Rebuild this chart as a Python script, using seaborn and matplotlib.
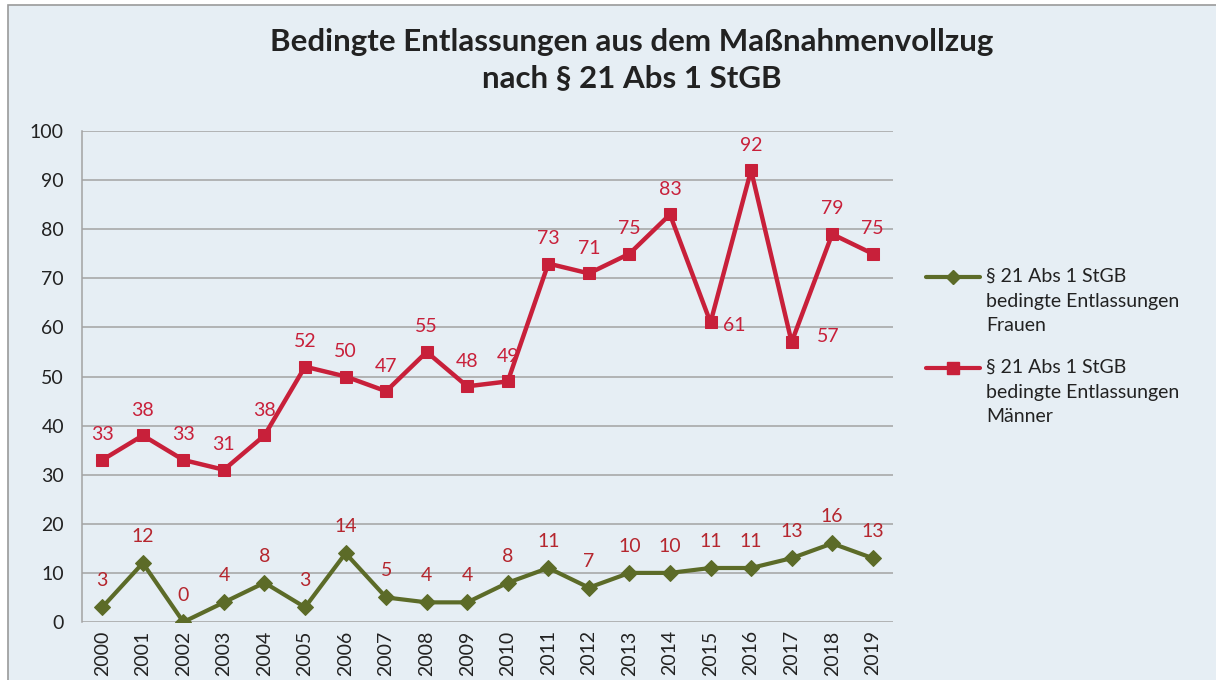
import matplotlib
matplotlib.use("Agg")
import matplotlib.pyplot as plt
import seaborn as sns
import pandas as pd
from matplotlib.patches import Rectangle
from matplotlib.lines import Line2D

years = [str(y) for y in range(2000, 2020)]
frauen = [3, 12, 0, 4, 8, 3, 14, 5, 4, 4, 8, 11, 7, 10, 10, 11, 11, 13, 16, 13]
maenner = [33, 38, 33, 31, 38, 52, 50, 47, 55, 48, 49, 73, 71, 75, 83, 61, 92, 57, 79, 75]

label_f = "§ 21 Abs 1 StGB\nbedingte Entlassungen\nFrauen"
label_m = "§ 21 Abs 1 StGB\nbedingte Entlassungen\nMänner"

sns.set_theme(style="white")
plt.rcParams["font.family"] = ["Lato", "DejaVu Sans"]

BG = "#E6EEF4"
GREEN = "#5C6B28"
RED = "#C8203A"
LABEL_RED = "#B5262E"
GRID = "#A3A3A3"
TEXT = "#222222"
FS = 14

W, H = 1216, 680
fig = plt.figure(figsize=(12.16, 6.8), dpi=100, facecolor="white")
fig.patches.append(Rectangle((8 / W, -0.05), 1.05, 1 - 5 / H + 0.05,
                             transform=fig.transFigure, facecolor=BG,
                             edgecolor="#9A9A9A", linewidth=1.2, zorder=-5))

ax = fig.add_axes([82 / W, 1 - 622 / H, (893 - 82) / W, (622 - 131) / H])
ax.set_facecolor(BG)
ax.set_zorder(2)

df = pd.DataFrame({"pos": range(len(years)), "frauen": frauen, "maenner": maenner})

sns.lineplot(data=df, x="pos", y="frauen", ax=ax, color=GREEN, linewidth=3.0,
             marker="D", markersize=8, markeredgecolor=GREEN, zorder=3, legend=False)
sns.lineplot(data=df, x="pos", y="maenner", ax=ax, color=RED, linewidth=3.2,
             marker="s", markersize=9, markeredgecolor=RED, zorder=3, legend=False)

ax.set_xlim(-0.5, len(years) - 0.5)
ax.set_ylim(0, 100)
ax.set_yticks(range(0, 101, 10))
ax.set_xticks(range(len(years)))
ax.set_xticklabels(years, rotation=90, fontsize=FS, color=TEXT)
ax.tick_params(axis="y", labelsize=FS, labelcolor=TEXT, length=0, pad=13)
ax.tick_params(axis="x", length=0, pad=6)
ax.set_xlabel("")
ax.set_ylabel("")
ax.grid(axis="y", color=GRID, linewidth=1.1, zorder=1)
ax.grid(axis="x", visible=False)
for side in ["top", "right", "bottom"]:
    ax.spines[side].set_visible(False)
ax.spines["left"].set_color(GRID)
ax.spines["left"].set_linewidth(1.1)

# value labels
for i, v in enumerate(frauen):
    ax.annotate(str(v), (i, v), xytext=(0, 13), textcoords="offset points",
                ha="center", va="bottom", fontsize=FS, color=LABEL_RED)
for i, v in enumerate(maenner):
    if i == 15:
        ax.annotate(str(v), (i, v), xytext=(17, -2), textcoords="offset points",
                    ha="center", va="center", fontsize=FS, color=RED)
    elif i == 17:
        ax.annotate(str(v), (i, v), xytext=(26, 4), textcoords="offset points",
                    ha="center", va="center", fontsize=FS, color=RED)
    else:
        ax.annotate(str(v), (i, v), xytext=(0, 12), textcoords="offset points",
                    ha="center", va="bottom", fontsize=FS, color=RED)

# legend: key line with marker beside the first line of each multi-line label
legend_items = [(label_f, GREEN, "D", 7, 277), (label_m, RED, "s", 9, 368)]
for text, color, marker, ms, ypix in legend_items:
    y = 1 - ypix / H
    fig.add_artist(Line2D([926 / W, 980 / W], [y, y], transform=fig.transFigure,
                          color=color, linewidth=3.0))
    fig.add_artist(Line2D([953 / W], [y], transform=fig.transFigure, color=color,
                          marker=marker, markersize=ms, markeredgecolor=color))
    fig.text(986 / W, y + 9 / H, text, ha="left", va="top", fontsize=FS,
             color=TEXT, linespacing=1.55)

fig.text(632 / W, 1 - 42 / H, "Bedingte Entlassungen aus dem Maßnahmenvollzug",
         ha="center", va="center", fontsize=22.5, fontweight="bold", color=TEXT)
fig.text(632 / W, 1 - 78 / H, "nach § 21 Abs 1 StGB",
         ha="center", va="center", fontsize=22.5, fontweight="bold", color=TEXT)

fig.savefig("out.png", dpi=100, facecolor="white")
